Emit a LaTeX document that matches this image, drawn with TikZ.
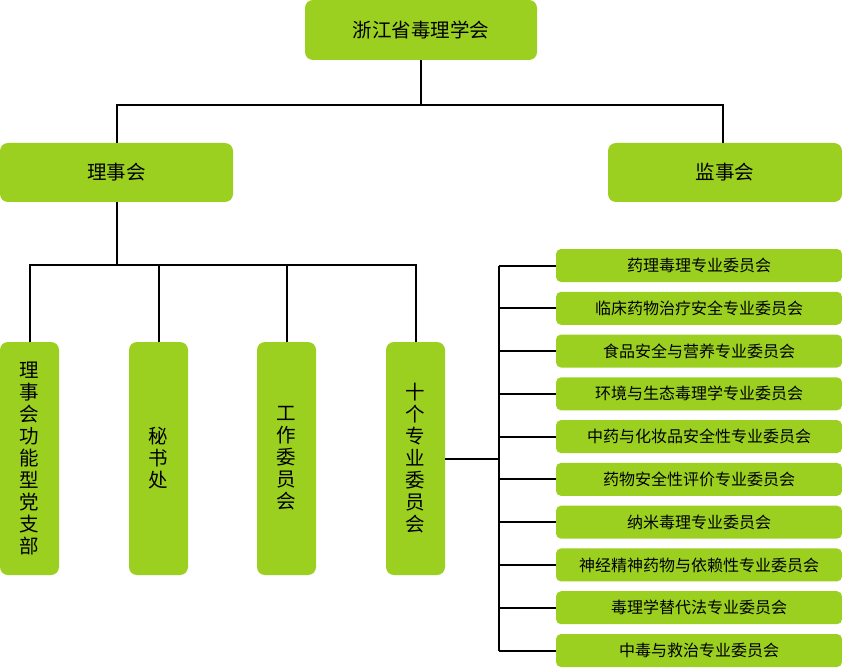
\documentclass[tikz,border=0pt]{standalone}
\usepackage{fontspec}
\setmainfont{Noto Sans CJK SC}
\definecolor{leafgreen}{RGB}{155,208,32}
\tikzset{
  orgbox/.style={fill=leafgreen, rounded corners=8pt, inner sep=0pt,
    font=\fontsize{19.5}{21}\selectfont},
  stackbox/.style={fill=leafgreen, rounded corners=8pt, inner sep=0pt, align=center,
    minimum width=59, minimum height=233, font=\fontsize{19.5}{22}\selectfont},
  subbox/.style={fill=leafgreen, rounded corners=5pt, inner sep=0pt,
    minimum width=286, minimum height=33, font=\fontsize{16}{17}\selectfont},
  link/.style={line width=2pt}
}
\begin{document}
\begin{tikzpicture}[x=1pt, y=-1pt]
    \useasboundingbox (0,0) rectangle (842,668);
    % top levels
    \node[orgbox, minimum width=232, minimum height=60] (xuehui) at (421,30) {浙江省毒理学会};
    \node[orgbox, minimum width=233, minimum height=59] (lishi) at (116.5,172.5) {理事会};
    \node[orgbox, minimum width=234, minimum height=59] (jianshi) at (725,172.5) {监事会};
    \draw[link] (xuehui.south) -- ++(0,45) coordinate (fork1) -| (lishi.north);
    \draw[link] (fork1) -| ([xshift=-2pt]jianshi.north);
    % under the council
    \node[stackbox] (dangzhi) at (29.5,458.5) {理\\事\\会\\功\\能\\型\\党\\支\\部};
    \node[stackbox] (mishu) at (158.5,458.5) {秘\\书\\处};
    \node[stackbox] (gongzuo) at (286.5,458.5) {工\\作\\委\\员\\会};
    \node[stackbox] (shige) at (415.5,458.5) {十\\个\\专\\业\\委\\员\\会};
    \draw[link] (lishi.south) -- ++(0,63) coordinate (fork2);
    \foreach \n in {dangzhi, mishu, gongzuo, shige}
        \draw[link] (fork2) -| (\n.north);
    % ten committees
    \foreach \t [count=\i] in {药理毒理专业委员会, 临床药物治疗安全专业委员会, 食品安全与营养专业委员会,
        环境与生态毒理学专业委员会, 中药与化妆品安全性专业委员会, 药物安全性评价专业委员会,
        纳米毒理专业委员会, 神经精神药物与依赖性专业委员会, 毒理学替代法专业委员会, 中毒与救治专业委员会}
        \node[subbox] (zw\i) at (699,{265.5+(\i-1)*42.78}) {\t};
    \coordinate (bus) at (498.5,458);
    \draw[link] (shige.east) -- (bus |- shige.east);
    \draw[link] (bus |- zw1.west) -- (bus |- zw10.west);
    \foreach \i in {1,...,10}
        \draw[link] (bus |- zw\i.west) -- (zw\i.west);
\end{tikzpicture}
\end{document}
